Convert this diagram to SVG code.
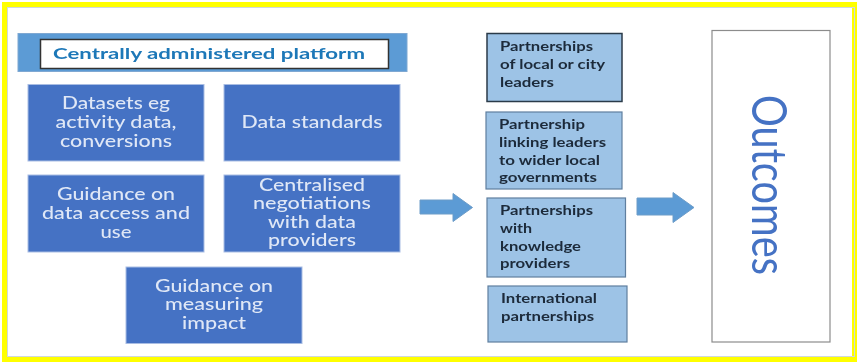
<svg xmlns="http://www.w3.org/2000/svg" width="858" height="362" viewBox="0 0 858 362">
<style>
text{font-family:Lato,"Open Sans","Liberation Sans",sans-serif}
.b{fill:#4472c4;stroke:#a9bde3;stroke-width:1}
.w{fill:#dfe7f6;font-size:16.500px;text-anchor:middle;font-weight:500}
.p{fill:#9dc3e6;stroke:#5f7f9f;stroke-width:1.2}
.t{fill:#1d2b3a;font-size:12.500px;font-weight:700}
.a{fill:#5b9bd5;stroke:#6d9cc8;stroke-width:1}
</style>
<defs><filter id="s" x="0" y="0" width="100%" height="100%"><feGaussianBlur stdDeviation="0.6"/></filter></defs>
<g filter="url(#s)">
<rect width="858" height="362" fill="#fff"/>
<rect id="frame" x="4.500" y="4.500" width="850" height="355" fill="#fff" stroke="#ffff00" stroke-width="5"/>
<rect x="7.500" y="7.500" width="847" height="349" fill="none" stroke="#cfd8dc" stroke-width="1"/>
<g id="platform">
<rect x="18" y="33.500" width="389" height="38" fill="#5b9bd5" stroke="#7fa8d2"/>
<rect x="40.500" y="39.500" width="348" height="29" fill="#fff" stroke="#333" stroke-width="1.500"/>
<text x="209" y="59" text-anchor="middle" font-size="16" font-weight="700" fill="#1f78b8" textLength="312" lengthAdjust="spacingAndGlyphs">Centrally administered platform</text>
</g>
<g id="datasets"><rect class="b" x="28" y="84.500" width="176" height="76.500"/>
<text class="w" x="116" y="109" textLength="108" lengthAdjust="spacingAndGlyphs">Datasets eg</text>
<text class="w" x="116" y="128" textLength="121" lengthAdjust="spacingAndGlyphs">activity data,</text>
<text class="w" x="116" y="146.500" textLength="112" lengthAdjust="spacingAndGlyphs">conversions</text></g>
<g id="standards"><rect class="b" x="224" y="84.500" width="176" height="76.500"/>
<text class="w" x="312" y="128" textLength="141" lengthAdjust="spacingAndGlyphs">Data standards</text></g>
<g id="guidance-access"><rect class="b" x="28" y="175" width="176" height="77"/>
<text class="w" x="116" y="200" textLength="118" lengthAdjust="spacingAndGlyphs">Guidance on</text>
<text class="w" x="116" y="219" textLength="148" lengthAdjust="spacingAndGlyphs">data access and</text>
<text class="w" x="116" y="238" textLength="31" lengthAdjust="spacingAndGlyphs">use</text></g>
<g id="negotiations"><rect class="b" x="224" y="175" width="176" height="77"/>
<text class="w" x="312" y="190.500" textLength="106" lengthAdjust="spacingAndGlyphs">Centralised</text>
<text class="w" x="312" y="209" textLength="118" lengthAdjust="spacingAndGlyphs">negotiations</text>
<text class="w" x="312" y="228" textLength="88" lengthAdjust="spacingAndGlyphs">with data</text>
<text class="w" x="312" y="246" textLength="88" lengthAdjust="spacingAndGlyphs">providers</text></g>
<g id="guidance-impact"><rect class="b" x="126" y="267" width="176" height="76.500"/>
<text class="w" x="214" y="291.500" textLength="118" lengthAdjust="spacingAndGlyphs">Guidance on</text>
<text class="w" x="214" y="310" textLength="98" lengthAdjust="spacingAndGlyphs">measuring</text>
<text class="w" x="214" y="329" textLength="64" lengthAdjust="spacingAndGlyphs">impact</text></g>
<g id="partners-city"><rect x="487" y="33.500" width="135" height="68" fill="#9dc3e6" stroke="#2b3a48" stroke-width="1.500"/>
<text class="t" x="500" y="51" textLength="93" lengthAdjust="spacingAndGlyphs">Partnerships</text>
<text class="t" x="500" y="69" textLength="105" lengthAdjust="spacingAndGlyphs">of local or city</text>
<text class="t" x="500" y="87" textLength="54" lengthAdjust="spacingAndGlyphs">leaders</text></g>
<g id="partners-linking"><rect class="p" x="486" y="112" width="136" height="77"/>
<text class="t" x="499" y="129" textLength="86" lengthAdjust="spacingAndGlyphs">Partnership</text>
<text class="t" x="499" y="147" textLength="107" lengthAdjust="spacingAndGlyphs">linking leaders</text>
<text class="t" x="499" y="165" textLength="101" lengthAdjust="spacingAndGlyphs">to wider local</text>
<text class="t" x="499" y="182" textLength="98" lengthAdjust="spacingAndGlyphs">governments</text></g>
<g id="partners-knowledge"><rect class="p" x="487" y="198" width="138.500" height="79"/>
<text class="t" x="500" y="215" textLength="93" lengthAdjust="spacingAndGlyphs">Partnerships</text>
<text class="t" x="500" y="233" textLength="32" lengthAdjust="spacingAndGlyphs">with</text>
<text class="t" x="500" y="251" textLength="81" lengthAdjust="spacingAndGlyphs">knowledge</text>
<text class="t" x="500" y="268" textLength="70" lengthAdjust="spacingAndGlyphs">providers</text></g>
<g id="partners-international"><rect class="p" x="488" y="286" width="139" height="56"/>
<text class="t" x="501" y="303" textLength="96" lengthAdjust="spacingAndGlyphs">International</text>
<text class="t" x="501" y="321" textLength="93" lengthAdjust="spacingAndGlyphs">partnerships</text></g>
<g id="outcomes"><rect x="712" y="30.500" width="118" height="311.500" fill="#fff" stroke="#8c8c8c" stroke-width="1.200"/>
<text transform="translate(752 95) rotate(90)" font-size="48" fill="#4472c4" textLength="180" lengthAdjust="spacingAndGlyphs">Outcomes</text></g>
<g id="connectors">
<path class="a" d="M420 200H453V193.500L472.500 207.500L453 221.500V214H420Z"/>
<path class="a" d="M637 198H673V192.500L694 207.500L673 222.500V215H637Z"/>
</g>
</g>
</svg>
